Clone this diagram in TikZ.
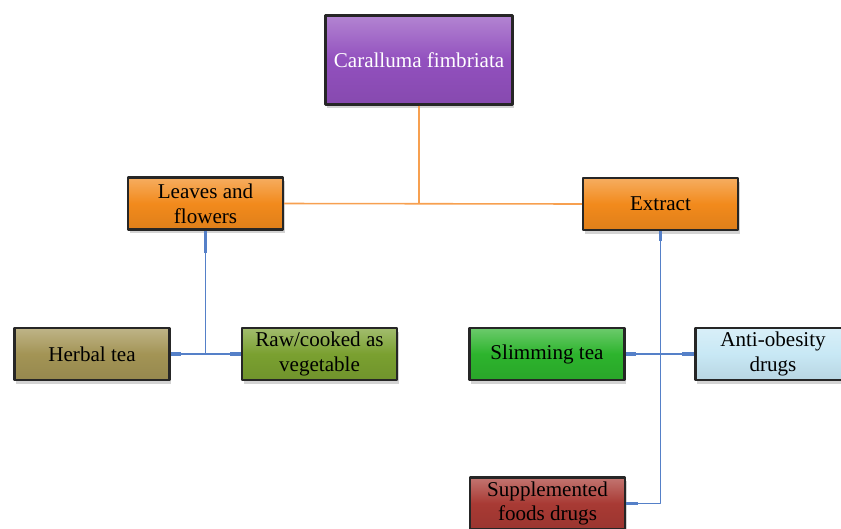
\documentclass[tikz,border=0pt]{standalone}
\usepackage{fontspec}
\setmainfont{Liberation Serif}
\usetikzlibrary{shadows}
\definecolor{rootpurple}{HTML}{9250BE}
\definecolor{partorange}{HTML}{F28A1C}
\definecolor{herbolive}{HTML}{A39455}
\definecolor{rawgreen}{HTML}{7AA030}
\definecolor{slimgreen}{HTML}{2DB42D}
\definecolor{antiblue}{HTML}{C8E8F5}
\definecolor{suppred}{HTML}{A83A34}
\definecolor{joinorange}{HTML}{F7A050}
\definecolor{joinblue}{HTML}{5580C8}
\begin{document}
\begin{tikzpicture}[x=0.02cm, y=-0.02cm, line join = round, font=\fontsize{12pt}{14pt}\selectfont,
		box/.style={draw=black!85, line width=1.3pt, rectangle, align=center, inner sep=0pt,
			minimum width=3.1cm, minimum height=1.04cm,
			drop shadow={fill=black!50, opacity=0.35, shadow xshift=1pt, shadow yshift=-2pt}},
		boxcol/.style={box, top color=#1!70!white, bottom color=#1!92!black, middle color=#1},
		orangeline/.style={draw=joinorange, line width=0.9pt},
		blueline/.style={draw=joinblue, line width=0.7pt},
		stub/.style={draw=joinblue, line width=2pt}]
		\clip (0,0) rectangle (841,528);
		\node[boxcol=rootpurple, minimum width=3.74cm, minimum height=1.78cm, text=white] (root) at (419,60) {Caralluma fimbriata};
		\node[boxcol=partorange] (leaves) at (205.5,203.5) {Leaves and\\flowers};
		\node[boxcol=partorange] (extract) at (660.5,204) {Extract};
		\node[boxcol=herbolive] (herbal) at (92,354) {Herbal tea};
		\node[boxcol=rawgreen] (raw) at (319.5,354) {Raw/cooked as\\vegetable};
		\node[boxcol=slimgreen] (slim) at (547,354) {Slimming tea};
		\node[boxcol=antiblue] (anti) at (773,354) {Anti-obesity\\drugs};
		\node[boxcol=suppred] (supp) at (547.5,503.5) {Supplemented\\foods drugs};
		% orange joins
		\draw[orangeline] (leaves.east) -- (extract.west);
		\draw[orangeline] (root.south) -- (root.south |- leaves.east);
		% blue joins
		\draw[blueline] (leaves.south) -- (leaves.south |- herbal.east);
		\draw[blueline] (herbal.east) -- (raw.west);
		\draw[blueline] (extract.south) -- (extract.south |- supp.east) -- (supp.east);
		\draw[blueline] (slim.east) -- (anti.west);
		\draw[stub] (leaves.south) -- ++(0,22);
		\draw[stub] (extract.south) -- ++(0,10);
		\draw[stub] (herbal.east) -- ++(10,0);
		\draw[stub] (raw.west) -- ++(-11,0);
		\draw[stub] (slim.east) -- ++(10,0);
		\draw[stub] (anti.west) -- ++(-12,0);
		\draw[stub] (supp.east) -- ++(12,0);
	\end{tikzpicture}
\end{document}
